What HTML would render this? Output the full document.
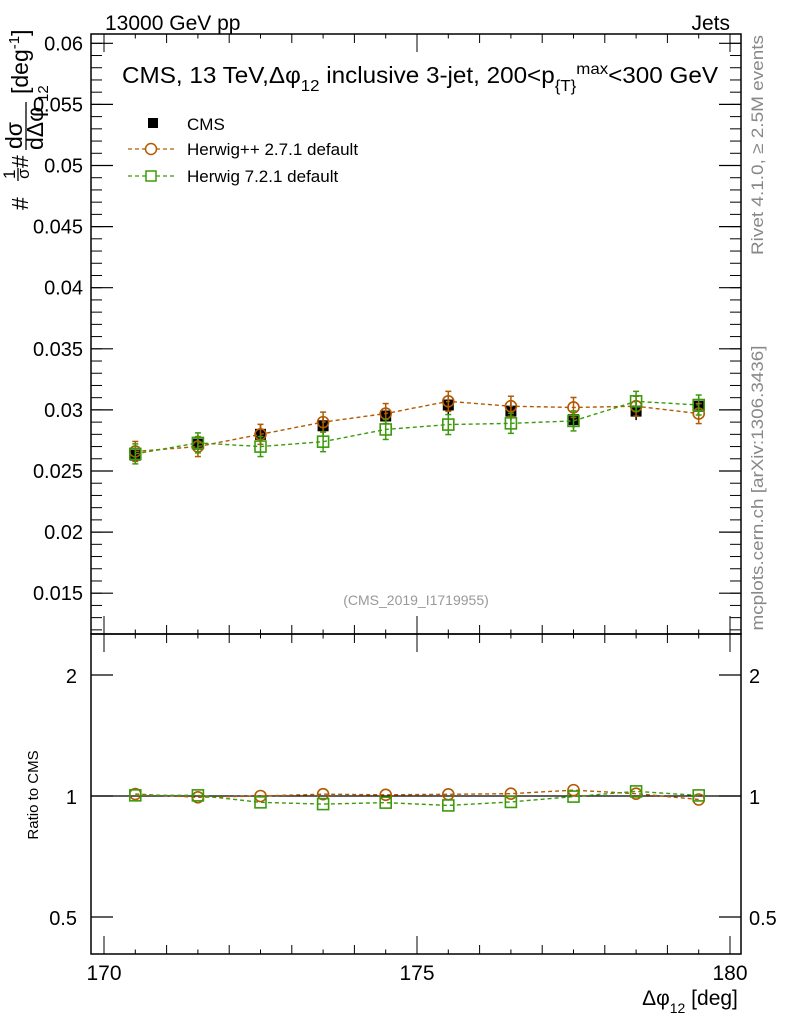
<!DOCTYPE html>
<html><head><meta charset="utf-8"><style>
html,body{margin:0;padding:0;background:#fff}
svg{display:block;font-family:"Liberation Sans",sans-serif}
</style></head><body>
<svg id="c" width="786" height="1024" viewBox="0 0 786 1024">
<g id="static">
<text x="105" y="30" font-size="21">13000 GeV pp</text>
<text x="730" y="30" font-size="21" text-anchor="end">Jets</text>
<text x="122" y="83" font-size="23" textLength="596" lengthAdjust="spacingAndGlyphs">CMS, 13 TeV,Δφ<tspan font-size="16" dy="8">12</tspan><tspan dy="-8"> inclusive 3-jet, 200&lt;p</tspan><tspan font-size="16" dy="8">{T}</tspan><tspan font-size="16" dy="-17">max</tspan><tspan dy="9">&lt;300 GeV</tspan></text>
<text x="416" y="605" font-size="14" fill="#999" text-anchor="middle">(CMS_2019_I1719955)</text>
<text transform="translate(763,145) rotate(-90)" font-size="17" fill="#888" text-anchor="middle" textLength="220" lengthAdjust="spacingAndGlyphs">Rivet 4.1.0, ≥ 2.5M events</text>
<text transform="translate(763,488) rotate(-90)" font-size="17" fill="#888" text-anchor="middle" textLength="285" lengthAdjust="spacingAndGlyphs">mcplots.cern.ch [arXiv:1306.3436]</text>
<text transform="translate(38,795) rotate(-90)" font-size="15" text-anchor="middle">Ratio to CMS</text>
<g transform="translate(0,210) rotate(-90)" font-size="23">
<text x="0" y="28">#</text>
<text x="31" y="15" font-size="17">1</text>
<line x1="29" y1="18" x2="42" y2="18" stroke="#000" stroke-width="1.3"/>
<text x="31" y="29" font-size="17">σ</text>
<text x="42" y="28">#</text>
<text x="61" y="22">dσ</text>
<line x1="60" y1="26" x2="108" y2="26" stroke="#000" stroke-width="1.3"/>
<text x="60" y="43">dΔφ</text>
<text x="108" y="48" font-size="15">12</text>
<text x="116" y="28">[deg<tspan font-size="15" dy="-9">-1</tspan><tspan dy="9">]</tspan></text>
</g>
<text x="690" y="1005" font-size="21" text-anchor="middle">Δφ<tspan font-size="14" dy="8">12</tspan><tspan dy="-8"> [deg]</tspan></text>
<g>
<rect x="148" y="118" width="10" height="10" fill="#000"/>
<text x="187" y="130" font-size="17">CMS</text>
<line x1="128" y1="149" x2="174" y2="149" stroke="#b35900" stroke-dasharray="4,3" stroke-width="1.3"/>
<circle cx="151" cy="149" r="5.5" fill="#fff" stroke="#b35900" stroke-width="1.5"/>
<text x="187" y="155" font-size="17">Herwig++ 2.7.1 default</text>
<line x1="128" y1="176" x2="174" y2="176" stroke="#3c9a0c" stroke-dasharray="4,3" stroke-width="1.3"/>
<rect x="146" y="171" width="10" height="10" fill="#fff" stroke="#3c9a0c" stroke-width="1.5"/>
<text x="187" y="182" font-size="17">Herwig 7.2.1 default</text>
</g>
</g>
<g id="dyn"></g>
</svg>
<script>
const binCenters=[170.5,171.5,172.5,173.5,174.5,175.5,176.5,177.5,178.5,179.5];
const cmsValues=[0.0263,0.0272,0.0280,0.0287,0.0295,0.0304,0.0299,0.0292,0.0299,0.0303];
const herwigppValues=[0.0266,0.0270,0.0280,0.0290,0.0297,0.0307,0.0303,0.0302,0.0303,0.0297];
const herwig7Values=[0.0264,0.0273,0.0270,0.0274,0.0284,0.0288,0.0289,0.0291,0.0307,0.0304];
const mainYTicks=[0.015,0.02,0.025,0.03,0.035,0.04,0.045,0.05,0.055,0.06];
const mainYTickLabels=["0.015","0.02","0.025","0.03","0.035","0.04","0.045","0.05","0.055","0.06"];
const ratioTicks=[0.5,1,2];
const ratioTickLabels=["0.5","1","2"];
const xTicks=[170,175,180];
const xTickLabels=["170","175","180"];

const NS="http://www.w3.org/2000/svg";
const L=91,R=741,T=34,M=634,B=954;
const X=v=>104+(v-170)*62.6;
const Y=v=>43.3+(0.06-v)*12220;
const RY=v=>796-Math.log2(v)*121;
const g=document.getElementById('dyn');
function mk(tag,a,parent){const e=document.createElementNS(NS,tag);for(const k in a)e.setAttribute(k,a[k]);(parent||g).appendChild(e);return e;}

let f1=mk('rect',{x:L,y:T,width:R-L,height:M-T,fill:'none',stroke:'#000','stroke-width':1.5});


let f2=mk('rect',{x:L,y:M,width:R-L,height:B-M,fill:'none',stroke:'#000','stroke-width':1.5});



for(let i=0;i<mainYTicks.length;i++){
 const y=Y(mainYTicks[i]);
 mk('line',{x1:L,y1:y,x2:L+22,y2:y,stroke:'#000','stroke-width':1.2});
 mk('line',{x1:R,y1:y,x2:R-22,y2:y,stroke:'#000','stroke-width':1.2});
 const t=mk('text',{x:L-8,y:y+7,'font-size':20,'text-anchor':'end'});
 t.textContent=mainYTickLabels[i];
 
 
}
for(let v=0.012;v<0.0607;v+=0.001){
 const y=Y(v); if(y<T||y>M) continue;
 mk('line',{x1:L,y1:y,x2:L+11,y2:y,stroke:'#000','stroke-width':1});
 mk('line',{x1:R,y1:y,x2:R-11,y2:y,stroke:'#000','stroke-width':1});
}
for(let i=0;i<ratioTicks.length;i++){
 const y=RY(ratioTicks[i]);
 mk('line',{x1:L,y1:y,x2:L+22,y2:y,stroke:'#000','stroke-width':1.2});
 mk('line',{x1:R,y1:y,x2:R-22,y2:y,stroke:'#000','stroke-width':1.2});
 const t=mk('text',{x:L-14,y:y+8,'font-size':20,'text-anchor':'end'});
 t.textContent=ratioTickLabels[i];
 
 
 const t2=mk('text',{x:R+8,y:y+8,'font-size':20});
 t2.textContent=ratioTickLabels[i];
 
 
}
for(let v=170;v<=180;v+=0.5){
 const x=X(v); const major=(v%5===0); const len=major?18:9;
 for(const [yb,d] of [[M,-1],[M,1],[B,-1],[T,1]]){
  mk('line',{x1:x,y1:yb,x2:x,y2:yb+d*len*((v%1===0||major)?1:0.5),stroke:'#000','stroke-width':1});
 }
}
for(let i=0;i<xTicks.length;i++){
 const t=mk('text',{x:X(xTicks[i]),y:980,'font-size':21,'text-anchor':'middle'});
 t.textContent=xTickLabels[i];
 
 
}
const ul=mk('line',{x1:L,y1:RY(1),x2:R,y2:RY(1),stroke:'#000','stroke-width':1.3});



function series(vals,color,shape,name){
 const pts=binCenters.map((c,i)=>X(c)+','+Y(vals[i])).join(' ');
 const pl=mk('polyline',{points:pts,fill:'none',stroke:color,'stroke-dasharray':'4,3','stroke-width':1.4});
 
 
 const rp=binCenters.map((c,i)=>X(c)+','+RY(vals[i]/cmsValues[i])).join(' ');
 const rl=mk('polyline',{points:rp,fill:'none',stroke:color,'stroke-dasharray':'4,3','stroke-width':1.4});
 
 
 binCenters.forEach((c,i)=>{
  for(const [y,panel] of [[Y(vals[i]),'main'],[RY(vals[i]/cmsValues[i]),'ratio']]){
   const x=X(c);
   if(panel==='main'){mk('line',{x1:x,y1:y-10,x2:x,y2:y+10,stroke:color,'stroke-width':1.5});
    mk('line',{x1:x-3,y1:y-10,x2:x+3,y2:y-10,stroke:color,'stroke-width':1.5});
    mk('line',{x1:x-3,y1:y+10,x2:x+3,y2:y+10,stroke:color,'stroke-width':1.5});}
   let m;
   if(shape==='circle') m=mk('circle',{cx:x,cy:y,r:5.5,fill:'none',stroke:color,'stroke-width':1.6});
   else m=mk('rect',{x:x-5.5,y:y-5.5,width:11,height:11,fill:'none',stroke:color,'stroke-width':1.6});
   
   
  }
 });
}
binCenters.forEach((c,i)=>{
 const x=X(c),y=Y(cmsValues[i]);
 mk('line',{x1:x,y1:y-9,x2:x,y2:y+9,stroke:'#000','stroke-width':1.5});
 const m=mk('rect',{x:x-5.5,y:y-5.5,width:11,height:11,fill:'#000'});
 
 
});
series(herwigppValues,'#b35900','circle','herwigpp');
series(herwig7Values,'#3c9a0c','square','herwig7');
</script>
</body></html>
